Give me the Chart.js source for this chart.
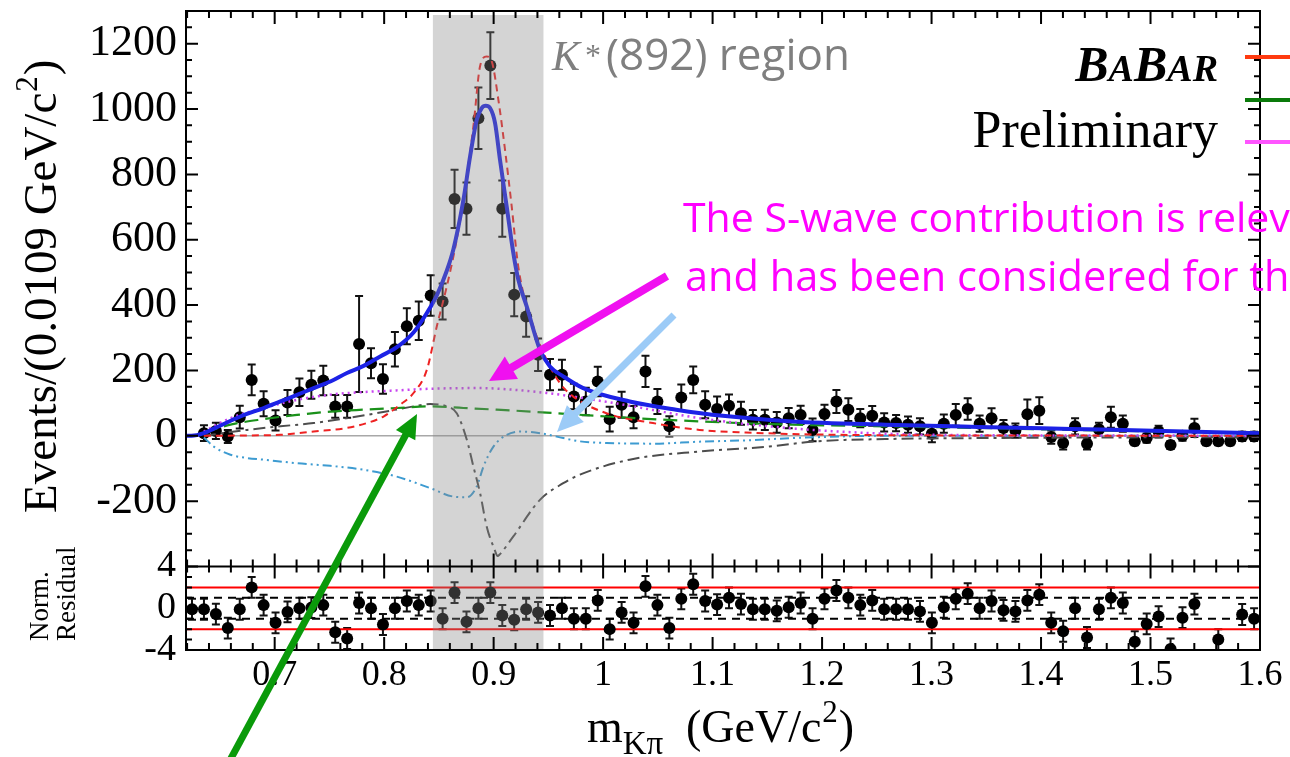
<!DOCTYPE html>
<html>
<head>
<meta charset="utf-8">
<script src="https://cdn.jsdelivr.net/npm/chart.js@4.4.1/dist/chart.umd.min.js"></script>
<style>
html,body{margin:0;padding:0;background:#ffffff;}
#wrap{width:1290px;height:757px;position:relative;overflow:hidden;}
canvas{display:block;}
</style>
</head>
<body>
<div id="wrap"><canvas id="c" width="1290" height="757"></canvas></div>
<script>
// ---------------- DATA ----------------
const massRange = [0.619, 1.6];
const kstarRegion = [0.8445, 0.9455];

const massBins = [
  0.6245, 0.6354, 0.6463, 0.6572, 0.6681, 0.6790, 0.6899, 0.7008, 0.7117, 0.7226,
  0.7335, 0.7444, 0.7553, 0.7662, 0.7771, 0.7880, 0.7989, 0.8098, 0.8207, 0.8316,
  0.8425, 0.8534, 0.8643, 0.8752, 0.8861, 0.8970, 0.9079, 0.9188, 0.9297, 0.9406,
  0.9515, 0.9624, 0.9733, 0.9842, 0.9951, 1.0060, 1.0169, 1.0278, 1.0387, 1.0496,
  1.0605, 1.0714, 1.0823, 1.0932, 1.1041, 1.1150, 1.1259, 1.1368, 1.1477, 1.1586,
  1.1695, 1.1804, 1.1913, 1.2022, 1.2131, 1.2240, 1.2349, 1.2458, 1.2567, 1.2676,
  1.2785, 1.2894, 1.3003, 1.3112, 1.3221, 1.3330, 1.3439, 1.3548, 1.3657, 1.3766,
  1.3875, 1.3984, 1.4093, 1.4202, 1.4311, 1.4420, 1.4529, 1.4638, 1.4747, 1.4856,
  1.4965, 1.5074, 1.5183, 1.5292, 1.5401, 1.5510, 1.5619, 1.5728, 1.5837, 1.5946
];

const events = [
  null, 8, 15, -2, 57, 171, 98, 47, 102, 133,
  156, 169, 90, 90, 281, 222, 174, 265, 335, 352,
  429, 411, 725, 695, 972, 1133, 695, 432, 365, 248,
  187, 187, 120, 105, 166, 51, 95, 57, 197, 105,
  29, 117, 171, 95, 82, 92, 69, 49, 49, 41,
  54, 64, 18, 67, 105, 80, 54, 61, 41, 39,
  34, 29, 6, 37, 64, 82, 37, 54, 24, 16,
  66, 77, -4, -22, 29, -24, 20, 57, 37, -17,
  -7, 13, -28, 0, 24, -17, -17, -17, -2, -2
];

const eventErrors = [
  0, 24, 25, 20, 35, 47, 38, 31, 38, 42,
  43, 45, 35, 35, 147, 46, 45, 53, 55, 59,
  62, 55, 89, 80, 94, 102, 86, 66, 62, 50,
  48, 46, 39, 42, 45, 38, 40, 34, 48, 38,
  31, 40, 41, 41, 38, 34, 35, 30, 31, 32,
  31, 28, 35, 28, 35, 35, 28, 30, 28, 25,
  25, 25, 26, 28, 33, 33, 25, 30, 24, 22,
  45, 41, 20, 20, 25, 18, 20, 32, 25, 12,
  14, 18, 12, 15, 28, 12, 12, 12, 14, 14
];

const residuals = [
  -0.1, -0.1, -0.56, -1.9, -0.1, 2.0, 0.3, -1.4, -0.35, 0.0,
  0.06, 0.3, -2.3, -2.9, 0.5, 0.0, -1.56, 0.0, 0.7, 0.3,
  0.7, -1.0, 1.5, -1.3, 0.0, 1.5, -0.7, -1.1, -0.1, -0.4,
  -0.7, 0.0, -1.0, -1.0, 0.75, -2.0, -0.4, -1.4, 2.1, 0.3,
  -1.9, 0.9, 2.3, 0.7, 0.35, 1.0, 0.4, -0.1, -0.1, -0.25,
  0.1, 0.5, -1.0, 0.9, 1.7, 1.0, 0.3, 0.75, -0.1, -0.1,
  -0.1, -0.3, -1.4, 0.1, 0.9, 1.4, 0.0, 0.7, -0.2, -0.3,
  0.75, 1.3, -1.4, -2.2, 0.0, -2.8, -0.1, 1.0, 0.5, -3.2,
  -1.5, -0.8, -3.9, -0.9, 0.4, null, -3.0, null, -0.6, -1.0
];
const residualError = 1;
const residualTwoSigma = [2, -2];
const residualOneSigma = [1, -1];

// fit curves
const totalFitMass = [0.6195, 0.624, 0.6353, 0.6444, 0.6687, 0.690, 0.7052, 0.7204, 0.7356, 0.7508,
  0.766, 0.7812, 0.7964, 0.8116, 0.8268, 0.839, 0.8481, 0.8572, 0.8632, 0.8724,
  0.8785, 0.8846, 0.8891, 0.8928, 0.8967, 0.9013, 0.9058, 0.9119, 0.918, 0.9225,
  0.9302, 0.9423, 0.9514, 0.9636, 0.9818, 1.0242, 1.0667, 1.1092, 1.1729, 1.2578,
  1.3427, 1.4275, 1.5123, 1.6];
const totalFitEvents = [0, 0, 8, 22, 59, 85, 105, 125, 146, 166,
  192, 214, 243, 271, 316, 376, 430, 505, 570, 722,
  855, 967, 1003, 1010, 1003, 957, 845, 702, 559, 478,
  396, 263, 212, 182, 146, 105, 80, 61, 44, 34,
  27, 21, 15, 8];

const pWaveMass = [0.6353, 0.6748, 0.7052, 0.7356, 0.766, 0.7843, 0.7994, 0.8146, 0.8268, 0.839,
  0.8481, 0.8572, 0.8657, 0.8724, 0.8815, 0.8876, 0.8937, 0.8983, 0.9043, 0.9104,
  0.9165, 0.9225, 0.9362, 0.9484, 0.9606, 0.9727, 1.0031, 1.0455, 1.088, 1.1304,
  1.2153, 1.3618, 1.6];
const pWaveEvents = [0, 1, 3, 13, 24, 39, 59, 95, 131, 202,
  335, 457, 590, 722, 947, 1131, 1161, 1146, 1029, 875,
  702, 518, 335, 233, 161, 120, 69, 39, 18, 10,
  3, 1, 0];

const greenMass = [0.6353, 0.6596, 0.69, 0.7204, 0.7508, 0.7812, 0.8116, 0.842, 0.8724, 0.9028,
  0.9484, 1.0031, 1.088, 1.1729, 1.2578, 1.3427, 1.4275, 1.5123, 1.6];
const greenEvents = [10, 34, 51, 64, 74, 80, 85, 90, 85, 80,
  71, 59, 44, 34, 29, 24, 18, 13, 10];

const sWaveMass = [0.6353, 0.6596, 0.69, 0.7204, 0.7508, 0.7812, 0.8116, 0.842, 0.8876, 0.918,
  0.9484, 0.9727, 1.0242, 1.088, 1.1516, 1.2153, 1.3002, 1.453, 1.6];
const sWaveEvents = [13, 54, 85, 110, 126, 134, 139, 144, 146, 141,
  131, 120, 92, 54, 29, 13, 3, 1, 0];

const interfGrayMass = [0.6353, 0.6748, 0.7052, 0.7356, 0.766, 0.7964, 0.8268, 0.842, 0.8572, 0.8663,
  0.8755, 0.8815, 0.8876, 0.8937, 0.9013, 0.9035, 0.9058, 0.918, 0.9423, 0.9636,
  0.9788, 1.0242, 1.088, 1.1516, 1.194, 1.2578, 1.3427, 1.471, 1.6];
const interfGrayEvents = [0, 18, 29, 39, 54, 71, 90, 97, 90, 69,
  -12, -94, -175, -278, -352, -368, -362, -308, -196, -145,
  -119, -73, -48, -33, -17, -10, -7, -5, -4];

const interfBlueMass = [0.6353, 0.6444, 0.6596, 0.6748, 0.69, 0.7204, 0.7508, 0.7812, 0.8116, 0.842,
  0.8632, 0.8755, 0.8846, 0.8907, 0.8998, 0.912, 0.9241, 0.9423, 0.9636, 0.9788,
  1.0031, 1.0455, 1.088, 1.1304, 1.1729, 1.2578, 1.6];
const interfBlueEvents = [-5, -33, -58, -68, -73, -84, -92, -104, -125, -160,
  -186, -188, -155, -94, -33, 3, 13, 8, -7, -17,
  -22, -24, -18, -14, -7, 0, 0];

const xTickValues = [0.7, 0.8, 0.9, 1, 1.1, 1.2, 1.3, 1.4, 1.5, 1.6];
const yTickValues = [-200, 0, 200, 400, 600, 800, 1000, 1200];
const residualTickValues = [-4, 0, 4];

// ---------------- helpers ----------------
const pairs = (xs, ys) => xs.map((x, i) => ({x: x, y: ys[i]}));
function curve(label, xs, ys, color, width, dash, order) {
  return {label, data: pairs(xs, ys), yAxisID: 'y', showLine: true, borderColor: color,
    borderWidth: width, borderDash: dash, pointRadius: 0, pointHoverRadius: 0, fill: false,
    cubicInterpolationMode: 'monotone', order: order};
}
function hline(label, yVal, axis, color, width, dash, order) {
  return {label, data: [{x: massRange[0], y: yVal}, {x: massRange[1], y: yVal}], yAxisID: axis,
    showLine: true, borderColor: color, borderWidth: width, borderDash: dash, pointRadius: 0,
    pointHoverRadius: 0, fill: false, order: order};
}

function drawErrors(ctx, xs, ys, errs, xScale, yScale) {
  ctx.save();
  ctx.beginPath();
  ctx.rect(xScale.left, yScale.top, xScale.right - xScale.left, yScale.bottom - yScale.top);
  ctx.clip();
  ctx.strokeStyle = '#111';
  ctx.lineWidth = 2;
  for (let i = 0; i < xs.length; i++) {
    if (ys[i] === null) continue;
    const e = Array.isArray(errs) ? errs[i] : errs;
    if (!e) continue;
    const px = xScale.getPixelForValue(xs[i]);
    const y1 = yScale.getPixelForValue(ys[i] + e);
    const y2 = yScale.getPixelForValue(ys[i] - e);
    ctx.beginPath();
    ctx.moveTo(px, y1); ctx.lineTo(px, y2);
    ctx.moveTo(px - 4, y1); ctx.lineTo(px + 4, y1);
    ctx.moveTo(px - 4, y2); ctx.lineTo(px + 4, y2);
    ctx.stroke();
  }
  ctx.restore();
}

function arrow(ctx, x1, y1, x2, y2, color, w, headLen, headW) {
  const a = Math.atan2(y2 - y1, x2 - x1);
  const bx = x2 - headLen * Math.cos(a), by = y2 - headLen * Math.sin(a);
  ctx.save();
  ctx.strokeStyle = color; ctx.fillStyle = color; ctx.lineWidth = w; ctx.lineCap = 'butt';
  ctx.beginPath(); ctx.moveTo(x1, y1); ctx.lineTo(bx + Math.cos(a), by + Math.sin(a)); ctx.stroke();
  ctx.beginPath();
  ctx.moveTo(x2, y2);
  ctx.lineTo(bx + headW / 2 * Math.sin(a), by - headW / 2 * Math.cos(a));
  ctx.lineTo(bx - headW / 2 * Math.sin(a), by + headW / 2 * Math.cos(a));
  ctx.closePath(); ctx.fill();
  ctx.restore();
}

const decor = {
  id: 'decor',
  beforeDatasetsDraw(chart) {
    const {ctx, scales} = chart;
    drawErrors(ctx, massBins, events, eventErrors, scales.x, scales.y);
    drawErrors(ctx, massBins, residuals, residualError, scales.x, scales.yR);
  },
  afterDatasetsDraw(chart) {
    const {ctx, scales} = chart;
    const x = scales.x, y = scales.y, yR = scales.yR;
    const L = x.left, R = x.right, T = y.top, M = y.bottom, B = yR.bottom;
    // K* region band
    const bx1 = x.getPixelForValue(kstarRegion[0]), bx2 = x.getPixelForValue(kstarRegion[1]);
    ctx.save();
    ctx.fillStyle = 'rgba(135,135,135,0.36)';
    ctx.fillRect(bx1, T + 4, bx2 - bx1, B - T - 5);
    ctx.restore();
    // frame
    ctx.save();
    ctx.strokeStyle = '#000'; ctx.lineWidth = 2;
    ctx.strokeRect(L, T, R - L, B - T);
    ctx.beginPath(); ctx.moveTo(L, M); ctx.lineTo(R, M); ctx.stroke();
    // x ticks
    ctx.beginPath();
    for (let k = 31; k <= 80; k++) {
      const v = k * 0.02;
      if (v < massRange[0] || v > massRange[1] + 1e-9) continue;
      const major = (k % 5 === 0);
      const px = x.getPixelForValue(v);
      const lm = major ? 13 : 7;
      ctx.moveTo(px, T); ctx.lineTo(px, T + lm);
      ctx.moveTo(px, M); ctx.lineTo(px, M - lm);
      ctx.moveTo(px, M); ctx.lineTo(px, M + (major ? 12 : 6));
      ctx.moveTo(px, B); ctx.lineTo(px, B - lm);
    }
    // y ticks main
    for (let v = -400; v <= 1300; v += 50) {
      const py = y.getPixelForValue(v);
      const lm = (v % 200 === 0) ? 12 : 6;
      ctx.moveTo(L, py); ctx.lineTo(L + lm, py);
      ctx.moveTo(R, py); ctx.lineTo(R - lm, py);
    }
    // residual y ticks
    for (let v = -4; v <= 4; v += 1) {
      const py = yR.getPixelForValue(v);
      const lm = (v % 4 === 0) ? 12 : 6;
      ctx.moveTo(L, py); ctx.lineTo(L + lm, py);
    }
    ctx.stroke();
    ctx.restore();
  },
  afterDraw(chart) {
    const {ctx} = chart;
    ctx.save();
    // y axis title
    ctx.fillStyle = '#000';
    ctx.save();
    ctx.translate(56, 513);
    ctx.rotate(-Math.PI / 2);
    ctx.font = '47px "Liberation Serif"';
    ctx.textBaseline = 'alphabetic';
    const t1 = 'Events/(0.0109 GeV/c';
    ctx.fillText(t1, 0, 0);
    let w = ctx.measureText(t1).width;
    ctx.font = '31px "Liberation Serif"';
    ctx.fillText('2', w + 1, -19);
    w += ctx.measureText('2').width + 2;
    ctx.font = '47px "Liberation Serif"';
    ctx.fillText(')', w, 0);
    ctx.restore();
    // residual title
    ctx.save();
    ctx.translate(48, 641);
    ctx.rotate(-Math.PI / 2);
    ctx.font = '27px "Liberation Serif"';
    ctx.fillText('Norm.', 0, 0);
    ctx.fillText('Residual', 0, 27);
    ctx.restore();
    // x axis title
    ctx.font = '46px "Liberation Serif"';
    ctx.fillText('m', 587, 742);
    const mw = ctx.measureText('m').width;
    ctx.font = '33px "Liberation Serif"';
    ctx.fillText('Kπ', 587 + mw, 754);
    ctx.font = '46px "Liberation Serif"';
    ctx.fillText('(GeV/c', 686, 742);
    let xw = 686 + ctx.measureText('(GeV/c').width;
    ctx.font = '31px "Liberation Serif"';
    ctx.fillText('2', xw + 1, 722);
    xw += ctx.measureText('2').width + 2;
    ctx.font = '46px "Liberation Serif"';
    ctx.fillText(')', xw, 742);

    // K*(892) region label
    ctx.fillStyle = '#7f7f7f';
    ctx.font = 'italic 42px "Liberation Serif"';
    ctx.fillText('K', 552, 70);
    ctx.font = '32px "Liberation Serif"';
    ctx.fillText('*', 585, 66);
    ctx.font = '44px "Open Sans"';
    ctx.fillText('(892) region', 606, 70);

    // BaBar Preliminary
    ctx.fillStyle = '#000';
    const parts = [['B', 50], ['A', 38], ['B', 50], ['AR', 38]];
    let total = 0;
    parts.forEach(p => { ctx.font = 'bold italic ' + p[1] + 'px "Liberation Serif"'; total += ctx.measureText(p[0]).width; });
    let bxp = 1218 - total;
    parts.forEach(p => { ctx.font = 'bold italic ' + p[1] + 'px "Liberation Serif"'; ctx.fillText(p[0], bxp, 81); bxp += ctx.measureText(p[0]).width; });
    ctx.font = '52px "Liberation Serif"';
    ctx.textAlign = 'right';
    ctx.fillText('Preliminary', 1218, 147);
    ctx.textAlign = 'left';

    // legend line samples (cut at the edge)
    ctx.lineWidth = 4;
    [['#ff3a10', 57], ['#0a7a0a', 100], ['#ff55ff', 142]].forEach(s => {
      ctx.strokeStyle = s[0];
      ctx.beginPath(); ctx.moveTo(1245, s[1]); ctx.lineTo(1295, s[1]); ctx.stroke();
    });

    // magenta annotation
    ctx.fillStyle = '#ff00ff';
    ctx.font = '41px "Open Sans"';
    ctx.fillText('The S-wave contribution is relevant', 683, 232);
    ctx.font = '41.5px "Open Sans"';
    ctx.fillText('and has been considered for the', 685, 291);

    // arrows
    arrow(ctx, 667, 276, 489, 381, '#f010f0', 8, 26, 26);
    arrow(ctx, 674, 315, 557, 432, '#9ccbf7', 7, 26, 24);
    arrow(ctx, 222, 775, 417, 414, '#0a9a0a', 7, 24, 22);
    ctx.restore();
  }
};

// ---------------- CHART ----------------
const datasets = [
  {label: 'data', data: pairs(massBins, events), yAxisID: 'y', pointRadius: 6, pointHoverRadius: 6,
   pointBackgroundColor: '#000', pointBorderWidth: 0, showLine: false, order: 30},
  {label: 'residual', data: pairs(massBins, residuals), yAxisID: 'yR', pointRadius: 6, pointHoverRadius: 6,
   pointBackgroundColor: '#000', pointBorderWidth: 0, showLine: false, order: 30},
  hline('zero', 0, 'y', '#a8a8a8', 1.5, [], 40),
  hline('+2', residualTwoSigma[0], 'yR', '#ff0000', 2, [], 35),
  hline('-2', residualTwoSigma[1], 'yR', '#ff0000', 2, [], 35),
  hline('+1', residualOneSigma[0], 'yR', '#000', 2, [8, 6], 35),
  hline('-1', residualOneSigma[1], 'yR', '#000', 2, [8, 6], 35),
  curve('interf2', interfBlueMass, interfBlueEvents, '#3d9bd1', 2, [9, 4, 2, 4, 2, 4], 8),
  curve('interf1', interfGrayMass, interfGrayEvents, '#4d4d4d', 2, [12, 5, 3, 5], 7),
  curve('green', greenMass, greenEvents, '#1a911a', 2.2, [14, 7], 6),
  curve('swave', sWaveMass, sWaveEvents, '#c844f0', 2.5, [2, 4], 5),
  curve('pwave', pWaveMass, pWaveEvents, '#ee2222', 2, [7, 5], 4),
  curve('total', totalFitMass, totalFitEvents, '#1c22e6', 4, [], 1)
];

new Chart(document.getElementById('c'), {
  type: 'scatter',
  data: {datasets},
  options: {
    responsive: false, animation: false, devicePixelRatio: 1, events: [],
    layout: {padding: {top: 11, right: 30, left: 0, bottom: 0}},
    plugins: {legend: {display: false}, tooltip: {enabled: false}},
    scales: {
      x: {
        type: 'linear', position: 'bottom', min: massRange[0], max: massRange[1],
        grid: {display: false, drawTicks: false}, border: {display: false},
        afterBuildTicks: s => { s.ticks = xTickValues.map(v => ({value: v})); },
        afterFit: s => { s.height = 107; s.paddingLeft = 0; s.paddingRight = 0; },
        ticks: {autoSkip: false, maxRotation: 0, padding: 4, color: '#000',
          font: {family: 'Liberation Serif', size: 36}, callback: v => String(v)}
      },
      y: {
        type: 'linear', position: 'left', stack: 'v', stackWeight: 555.5, weight: 2,
        min: -400, max: 1300,
        grid: {display: false, drawTicks: false}, border: {display: false},
        afterBuildTicks: s => { s.ticks = yTickValues.map(v => ({value: v})); },
        afterFit: s => { s.width = 186; s.paddingTop = 0; s.paddingBottom = 0; },
        ticks: {autoSkip: false, padding: 9, color: '#000',
          font: {family: 'Liberation Serif', size: 44}, callback: v => String(v)}
      },
      yR: {
        type: 'linear', position: 'left', stack: 'v', stackWeight: 83.5, weight: 1,
        min: -4, max: 4,
        grid: {display: false, drawTicks: false}, border: {display: false},
        afterBuildTicks: s => { s.ticks = residualTickValues.map(v => ({value: v})); },
        afterFit: s => { s.width = 186; s.paddingTop = 0; s.paddingBottom = 0; },
        ticks: {autoSkip: false, padding: 10, color: '#000',
          font: {family: 'Liberation Serif', size: 38}, callback: v => String(v)}
      }
    }
  },
  plugins: [decor]
});
</script>
</body>
</html>
